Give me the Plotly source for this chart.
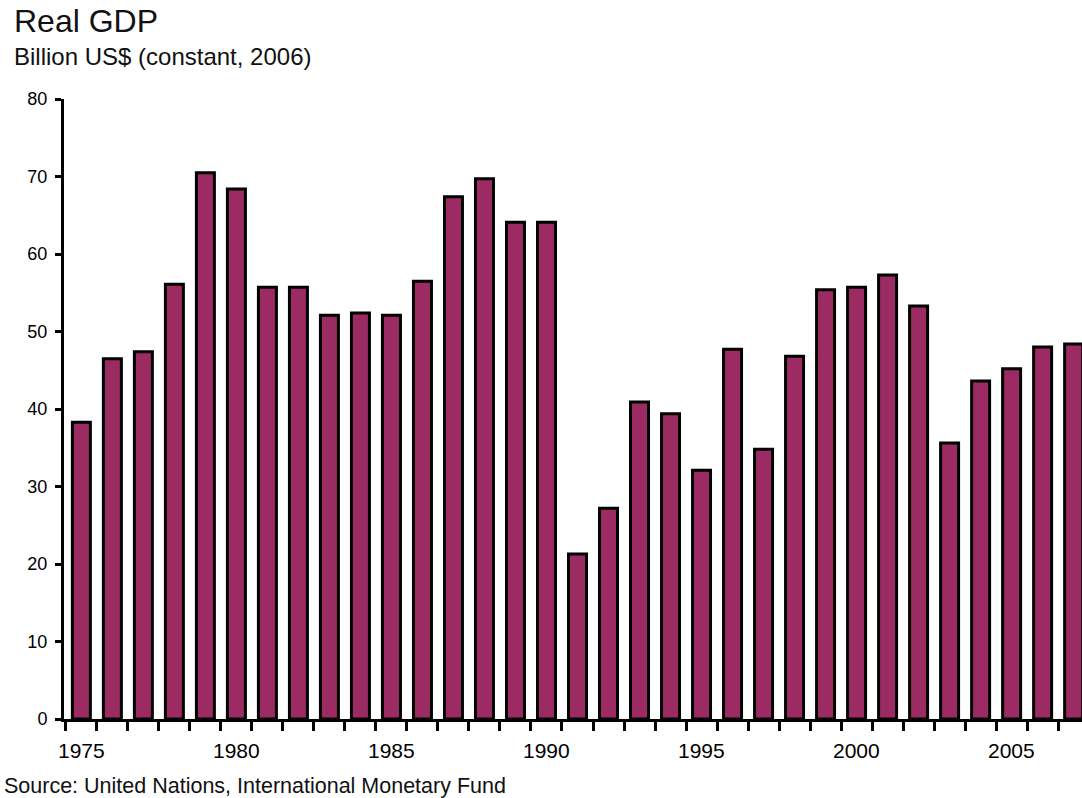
import plotly.graph_objects as go

years = list(range(1975, 2008))
gdp = [38.3, 46.5, 47.4, 56.1, 70.5, 68.4, 55.7, 55.7, 52.1, 52.4,
       52.1, 56.5, 67.4, 69.7, 64.1, 64.1, 21.3, 27.2, 40.9, 39.4,
       32.1, 47.7, 34.8, 46.8, 55.4, 55.7, 57.3, 53.3, 35.6, 43.6,
       45.2, 48.0, 48.4]
label_years = [1975, 1980, 1985, 1990, 1995, 2000, 2005]
y_ticks = [0, 10, 20, 30, 40, 50, 60, 70, 80]

FONT = "Liberation Sans, Arial, sans-serif"

# tick marks sit on category boundaries (between bars)
boundaries = [y - 0.5 for y in years] + [years[-1] + 0.5]
XRANGE = [1974.44, 2007.27]

fig = go.Figure(go.Bar(
    x=years, y=gdp, width=0.58,
    marker=dict(color="#9B2B62", line=dict(color="black", width=3)),
))

# year labels centred under their bars
year_labels = [
    dict(text=str(v), xref="x", yref="paper", x=v, y=-0.05,
         xanchor="center", yanchor="middle", showarrow=False,
         font=dict(size=21, family=FONT, color="black"))
    for v in label_years
]

fig.update_layout(
    template="none",
    width=1082, height=798,
    margin=dict(l=64, r=0, t=99, b=79),
    plot_bgcolor="white", paper_bgcolor="white",
    showlegend=False,
    font=dict(family=FONT, color="black"),
    xaxis=dict(
        range=XRANGE,
        tickmode="array", tickvals=boundaries,
        ticktext=["" for _ in boundaries],
        ticks="outside", ticklen=9, tickwidth=3, tickcolor="black",
        showline=True, linecolor="black", linewidth=3,
        showgrid=False, zeroline=False, automargin=False,
    ),
    yaxis=dict(
        range=[0, 80], tickmode="array", tickvals=y_ticks,
        ticks="outside", ticklen=6, tickwidth=3, tickcolor="black",
        tickfont=dict(size=18, family=FONT, color="black"),
        showline=True, linecolor="black", linewidth=3,
        showgrid=False, zeroline=False, automargin=False,
        ticklabelstandoff=4,
    ),
    annotations=year_labels + [
        dict(text="Real GDP", xref="paper", yref="paper",
             x=-0.051, y=1.126, xanchor="left", yanchor="middle",
             showarrow=False, font=dict(size=32, family=FONT, color="#111111")),
        dict(text="Billion US$ (constant, 2006)", xref="paper", yref="paper",
             x=-0.051, y=1.068, xanchor="left", yanchor="middle",
             showarrow=False, font=dict(size=24, family=FONT, color="#111111")),
        dict(text="Source: United Nations, International Monetary Fund",
             xref="paper", yref="paper",
             x=-0.061, y=-0.108, xanchor="left", yanchor="middle",
             showarrow=False, font=dict(size=21.5, family=FONT, color="#111111")),
    ],
)

fig.write_html("out.html")
